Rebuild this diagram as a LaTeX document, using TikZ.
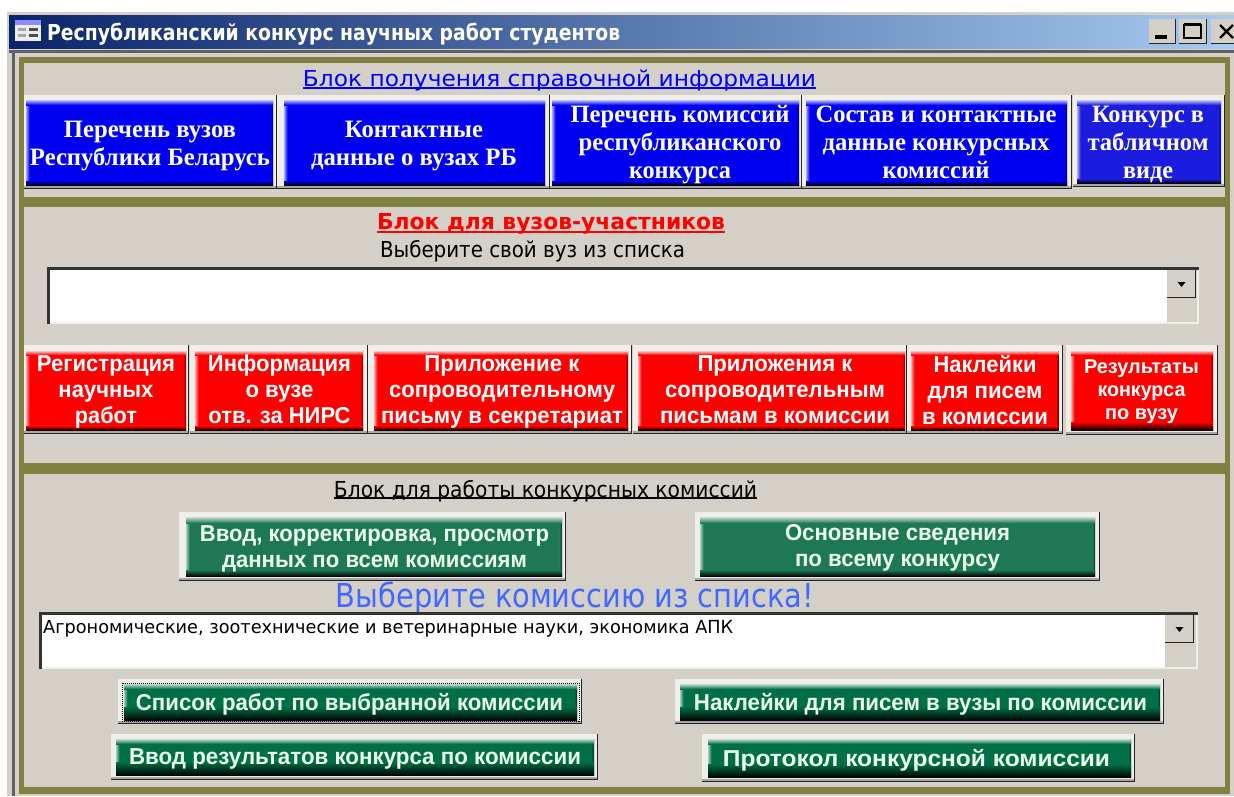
\documentclass[tikz,border=0pt]{standalone}
\usepackage{graphicx}
\usepackage{fontspec}
\setmainfont{Liberation Sans}
\newfontfamily\lserif{Liberation Serif}
\newfontfamily\hsans{DejaVu Sans}
\definecolor{panelbg}{RGB}{212,208,200}
\definecolor{olive}{RGB}{128,128,64}
\definecolor{navy}{RGB}{10,36,106}
\definecolor{skyend}{RGB}{166,202,240}
\definecolor{edgelight}{RGB}{240,238,232}
\definecolor{bluebtn}{RGB}{0,0,240}
\definecolor{blueb}{RGB}{28,28,222}
\definecolor{redbtn}{RGB}{255,0,0}
\definecolor{greena}{RGB}{30,120,85}
\definecolor{greenb}{RGB}{0,110,70}
\definecolor{headblue}{RGB}{0,0,255}
\definecolor{bigblue}{RGB}{65,105,255}
\newcommand\fw[2]{\resizebox{#1pt}{\height}{\vphantom{Рр}#2}}
% outer x0 y0 x1 y1, inner x0 y0 x1 y1, colour
\newcommand\raised[9]{%
  \fill[edgelight] (#1,#2) rectangle (#3,#4);
  \fill[gray!70] (#1,#4-3) rectangle (#3,#4-1.5);
  \fill[black!85] (#1,#4-1.5) rectangle (#3,#4);
  \fill[black!85] (#3-1.5,#2) rectangle (#3,#4);
  \fill[#9] (#5,#6) rectangle (#7,#8);
  \shade[left color=#9!35!white,right color=#9] (#5,#6) rectangle (#5+3.5,#8);
  \shade[left color=#9,right color=#9!35!black] (#7-2.5,#6) rectangle (#7,#8);
  \shade[top color=#9!25!white,bottom color=#9] (#5,#6) rectangle (#7,#6+\bandtop);
  \shade[top color=#9,bottom color=#9!5!black] (#5,#8-\bandbot) rectangle (#7,#8);
}
\newcommand\dropbtn[4]{%
  \fill[panelbg] (#1,#2) rectangle (#3,#4);
  \fill[black!85] (#1,#4-1.5) rectangle (#3,#4);
  \fill[black!85] (#3-1.5,#2) rectangle (#3,#4);
  \fill[black] (#1/2+#3/2-4,#2/2+#4/2-2) -- (#1/2+#3/2+4,#2/2+#4/2-2) -- (#1/2+#3/2,#2/2+#4/2+3) -- cycle;
}
\tikzset{
  lblblue/.style={yshift=-2pt,text=white,align=center,inner sep=0pt,font=\lserif\bfseries\fontsize{25}{28}\selectfont},
  lblred/.style={yshift=-2pt,text=white,align=center,inner sep=0pt,font=\bfseries\fontsize{23}{26}\selectfont},
  lblredsm/.style={yshift=-2pt,text=white,align=center,inner sep=0pt,font=\bfseries\fontsize{20}{23}\selectfont},
  lblgreen/.style={yshift=-2pt,text=white!92!green,align=center,inner sep=0pt,font=\bfseries\fontsize{23}{26.5}\selectfont},
  lblthin/.style={yshift=-2pt,inner sep=0pt,font=\hsans\fontsize{22}{26}\selectfont},
}
\begin{document}
\begin{tikzpicture}[x=1pt,y=-1pt]
\useasboundingbox (0,0) rectangle (1234,796);
\clip (0,0) rectangle (1234,796);
\fill[white] (0,0) rectangle (1234,796);
% window
\fill[panelbg] (7,12) rectangle (1234,796);
\shade[left color=navy,right color=skyend] (9,15) rectangle (1234,48);
\fill[gray!75!black] (9,50) rectangle (1234,53);
\fill[gray!75!black] (12,50) rectangle (14.5,796);
% olive frame
\fill[olive] (19,57) rectangle (1230,794);
\fill[panelbg] (24,63) rectangle (1225,197);
\fill[panelbg] (24,207) rectangle (1225,463);
\fill[panelbg] (24,474) rectangle (1225,787);
% title icon
\fill[white!85!gray] (15,20) rectangle (41,41);
\fill[blue!45!white] (15,20) rectangle (41,25);
\fill[gray!70] (18,28) rectangle (26,31);
\fill[gray!70] (18,34) rectangle (26,37);
\fill[gray!60!black] (29,28) rectangle (38,31);
\fill[gray!60!black] (29,34) rectangle (38,37);
\node[anchor=west,inner sep=0pt,text=white,font=\hsans\bfseries\fontsize{22}{26}\selectfont] (title) at (47,34) {\fw{573}{Республиканский конкурс научных работ студентов}};
% window buttons
\fill[panelbg] (1149,19) rectangle (1176,44);
\fill[black!85] (1149,42.5) rectangle (1176,44);
\fill[black!85] (1174.5,19) rectangle (1176,44);
\fill[black] (1155,35) rectangle (1167,38.5);
\fill[panelbg] (1179,19) rectangle (1207,44);
\fill[black!85] (1179,42.5) rectangle (1207,44);
\fill[black!85] (1205.5,19) rectangle (1207,44);
\draw[black,line width=1.5pt] (1184,25) rectangle (1201,38);
\draw[black,line width=3pt] (1184,24.2) -- (1201,24.2);
\fill[panelbg] (1211,19) rectangle (1234,44);
\fill[black!85] (1211,42.5) rectangle (1234,44);
\draw[black,line width=2.4pt] (1220,25) -- (1233,38) (1233,25) -- (1220,38);
% block 1
\node[lblthin,text=headblue] (head1) at (559.5,78) {\fw{513}{Блок получения справочной информации}};
\draw[headblue,line width=1.4pt] (head1.west |- 0,88) -- (head1.east |- 0,88);
\def\bandtop{5}\def\bandbot{4}
\raised{24}{95}{277}{189}{26}{100}{273}{185}{bluebtn}
\raised{277}{95}{550}{189}{284}{100}{545}{185}{bluebtn}
\raised{550}{95}{802}{189}{552}{100}{799}{185}{bluebtn}
\raised{802}{95}{1072}{189}{806}{100}{1067}{185}{bluebtn}
\raised{1073}{95}{1225}{187}{1077}{100}{1221}{183}{blueb}
\node[lblblue] (b1) at (150,144) {\fw{172}{Перечень вузов}\\\fw{240}{Республики Беларусь}};
\node[lblblue] (b2) at (414,144) {\fw{138}{Контактные}\\\fw{206}{данные о вузах РБ}};
\node[lblblue] (b3) at (680,143) {\fw{219}{Перечень комиссий}\\\fw{203}{республиканского}\\\fw{102}{конкурса}};
\node[lblblue] (b4) at (936,143) {\fw{241}{Состав и контактные}\\\fw{227}{данные конкурсных}\\\fw{107}{комиссий}};
\node[lblblue] (b5) at (1148,143) {\fw{112}{Конкурс в}\\\fw{121}{табличном}\\\fw{50}{виде}};
% block 2
\node[lblthin,text=red,font=\hsans\bfseries\fontsize{22}{26}\selectfont] (head2) at (551,222) {\fw{348}{Блок для вузов-участников}};
\draw[red,line width=1.8pt] (head2.west |- 0,232) -- (head2.east |- 0,232);
\node[lblthin,text=black] (sub2) at (532.5,249) {\fw{305}{Выберите свой вуз из списка}};
% combo 1
\fill[edgelight] (47,267) rectangle (1199,324);
\fill[black!80] (47,267) rectangle (1199,269.5);
\fill[black!80] (47,267) rectangle (49.5,324);
\fill[panelbg] (1167,270) rectangle (1197,322);
\fill[white] (49.5,269.5) rectangle (1167,322);
\dropbtn{1167}{270}{1196}{298}
\def\bandtop{4}\def\bandbot{4}
\raised{24}{345}{189}{434}{26}{351}{186}{430}{redbtn}
\raised{190}{345}{368}{434}{195}{351}{363}{430}{redbtn}
\raised{368}{345}{632}{434}{374}{351}{628}{430}{redbtn}
\raised{632.5}{345}{907}{434}{638}{351}{905}{430}{redbtn}
\raised{907}{345}{1063}{434}{911}{351}{1058.5}{430}{redbtn}
\def\bandbot{8}
\raised{1065.5}{345}{1218}{435}{1071}{351}{1213}{430}{redbtn}
\node[lblred] (r1) at (106,390) {\fw{138}{Регистрация}\\\fw{95}{научных}\\\fw{62}{работ}};
\node[lblred] (r2) at (279.5,390) {\fw{143}{Информация}\\\fw{68}{о вузе}\\\fw{142}{отв. за НИРС}};
\node[lblred] (r3) at (502,390) {\fw{155}{Приложение к}\\\fw{226}{сопроводительному}\\\fw{242}{письму в секретариат}};
\node[lblred] (r4) at (775,390) {\fw{155}{Приложения к}\\\fw{220}{сопроводительным}\\\fw{230}{письмам в комиссии}};
\node[lblred] (r5) at (985,390) {\fw{103}{Наклейки}\\\fw{115}{для писем}\\\fw{126}{в комиссии}};
\node[lblredsm] (r6) at (1141.5,390) {\fw{115}{Результаты}\\\fw{88}{конкурса}\\\fw{73}{по вузу}};
% block 3
\node[lblthin,text=black] (head3) at (545.5,489) {\fw{423}{Блок для работы конкурсных комиссий}};
\draw[black,line width=1.2pt] (head3.west |- 0,498) -- (head3.east |- 0,498);
\def\bandtop{6}\def\bandbot{6}
\raised{179}{512}{566}{581}{186}{517}{562}{576}{greena}
\raised{695}{512}{1100}{581}{700}{517}{1095}{576}{greena}
\node[lblgreen] (g1) at (374.5,547) {\fw{349}{Ввод, корректировка, просмотр}\\\fw{305}{данных по всем комиссиям}};
\node[lblgreen] (g2) at (897.5,546) {\fw{225}{Основные сведения}\\\fw{205}{по всему конкурсу}};
\node[lblthin,text=bigblue,font=\hsans\fontsize{33}{37}\selectfont] (head4) at (575,596) {\fw{478}{Выберите комиссию из списка!}};
% combo 2
\fill[edgelight] (39,612) rectangle (1198,669);
\fill[black!80] (39,612) rectangle (1198,614.5);
\fill[black!80] (39,612) rectangle (41.5,669);
\fill[panelbg] (1165,615) rectangle (1196,667);
\fill[white] (41.5,614.5) rectangle (1165,667);
\dropbtn{1165}{615}{1194}{643}
\node[anchor=west,inner sep=0pt,font=\hsans\fontsize{18}{22}\selectfont] (combotext) at (43,629) {\fw{690}{Агрономические, зоотехнические и ветеринарные науки, экономика АПК}};
% green action buttons
\def\bandtop{5}\def\bandbot{13}
\raised{118}{679}{582}{724}{124}{684}{577}{720}{greenb}
\draw[black,line width=1pt,dash pattern=on 1pt off 1pt] (122,683) rectangle (579,721);
\raised{111}{734}{598}{780}{116}{739}{594}{775}{greenb}
\raised{675}{679}{1164}{724}{680}{684}{1160}{720}{greenb}
\raised{702}{734}{1135}{782}{708}{739}{1131}{777}{greenb}
\node[lblgreen] (a1) at (349.5,702) {\fw{427}{Список работ по выбранной комиссии}};
\node[lblgreen] (a2) at (355,757) {\fw{452}{Ввод результатов конкурса по комиссии}};
\node[lblgreen] (a3) at (920.5,702) {\fw{453}{Наклейки для писем в вузы по комиссии}};
\node[lblgreen] (a4) at (916.5,758) {\fw{387}{Протокол конкурсной комиссии}};
\end{tikzpicture}
\end{document}
